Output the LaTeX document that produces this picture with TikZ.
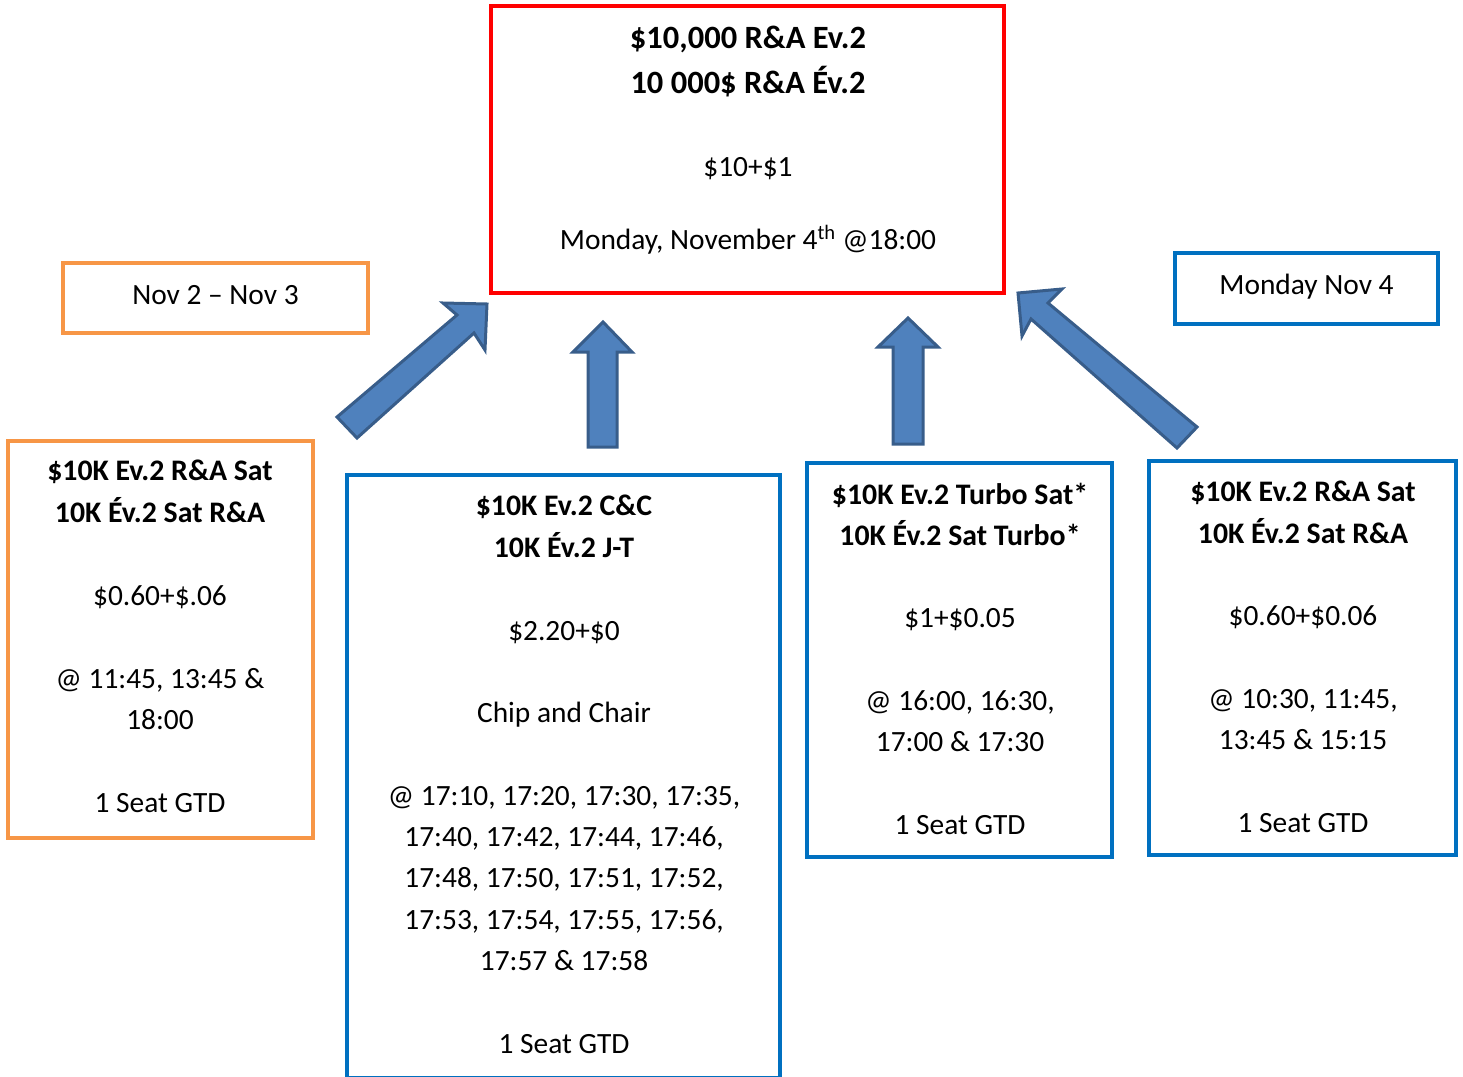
\documentclass[tikz,border=0pt]{standalone}
\usepackage{fontspec}
\setmainfont{Carlito}
\definecolor{rd}{HTML}{FF0000}
\definecolor{og}{HTML}{F79646}
\definecolor{bl}{HTML}{0070C0}
\definecolor{afill}{HTML}{4F81BD}
\definecolor{aline}{HTML}{385D8A}
\begin{document}
\begin{tikzpicture}[x=1pt,y=-1pt,
  every node/.style={inner sep=0pt,outer sep=0pt},
  box/.style={draw,rectangle,line width=3.5pt},
  redbox/.style={box,draw=rd,line width=4pt},
  orbox/.style={box,draw=og},
  blbox/.style={box,draw=bl},
  txt/.style={anchor=base,align=center,font=\fontsize{29.4}{41.3}\selectfont},
  btxt/.style={txt,font=\fontsize{29.8}{41.3}\selectfont\bfseries},
  blockarrow/.style={fill=afill,draw=aline,line width=3pt,line join=miter}]
\useasboundingbox (0,0) rectangle (1463,1076);
\clip (0,0) rectangle (1463,1076);

% boxes
\node[redbox,minimum width=513pt,minimum height=287pt] (main) at (747.5,149.5) {};
\node[orbox,minimum width=305pt,minimum height=70pt] (nov) at (215.5,298) {};
\node[blbox,minimum width=263pt,minimum height=71pt] (mon) at (1306.5,288.5) {};
\node[orbox,minimum width=305pt,minimum height=397pt] (b1) at (160.5,639.5) {};
\node[blbox,minimum width=433pt,minimum height=603pt] (b2) at (563.5,776.5) {};
\node[blbox,minimum width=305pt,minimum height=394pt] (b3) at (959.5,660) {};
\node[blbox,minimum width=307pt,minimum height=394pt] (b4) at (1302.5,658) {};

% main texts (base anchor = baseline of last line)
\node[btxt,font=\fontsize{32.5}{45}\selectfont\bfseries] (mt1) at (748,93) {\$10,000 R\&A Ev.2\\10 000\$ R\&A Év.2};
\node[txt] (mt2) at (748,176) {\$10+\$1};
\node[txt] (mt3) at (748,249) {Monday, November 4\textsuperscript{th} @18:00};

\node[txt] (novt) at (215.5,304) {Nov 2 – Nov 3};
\node[txt] (mont) at (1306.5,294) {Monday Nov 4};

% box 1
\node[btxt] (b1t) at (160,522) {\$10K Ev.2 R\&A Sat\\10K Év.2 Sat R\&A};
\node[txt] (b1u) at (160,812) {\$0.60+\$.06\\[41.3pt]@ 11:45, 13:45 \&\\18:00\\[41.3pt]1 Seat GTD};

% box 2
\node[btxt] (b2t) at (564,557) {\$10K Ev.2 C\&C\\10K Év.2 J-T};
\node[txt] (b2u) at (564,1053) {\$2.20+\$0\\[41.3pt]Chip and Chair\\[41.3pt]@ 17:10, 17:20, 17:30, 17:35,\\17:40, 17:42, 17:44, 17:46,\\17:48, 17:50, 17:51, 17:52,\\17:53, 17:54, 17:55, 17:56,\\17:57 \& 17:58\\[41.3pt]1 Seat GTD};

% box 3
\node[btxt] (b3t) at (960,545.5) {\$10K Ev.2 Turbo Sat*\\10K Év.2 Sat Turbo*};
\node[txt] (b3u) at (960,834) {\$1+\$0.05\\[41.3pt]@ 16:00, 16:30,\\17:00 \& 17:30\\[41.3pt]1 Seat GTD};

% box 4
\node[btxt] (b4t) at (1303,543) {\$10K Ev.2 R\&A Sat\\10K Év.2 Sat R\&A};
\node[txt] (b4u) at (1303,832) {\$0.60+\$0.06\\[41.3pt]@ 10:30, 11:45,\\13:45 \& 15:15\\[41.3pt]1 Seat GTD};

% block arrows
\draw[blockarrow] (337,417) -- (457,315) -- (443,303) -- (487,304) -- (485,350) -- (474,333) -- (357,438) -- cycle;
\draw[blockarrow] (603,322) -- (632,352) -- (617,352) -- (617,447) -- (588,447) -- (588,352) -- (573,352) -- cycle;
\draw[blockarrow] (908,318) -- (938,347) -- (923,347) -- (923,444) -- (893,444) -- (893,347) -- (878,347) -- cycle;
\draw[blockarrow] (1018,293) -- (1062,289) -- (1048,303) -- (1197,427) -- (1177,448) -- (1031,319) -- (1022,336) -- cycle;
\end{tikzpicture}
\end{document}
